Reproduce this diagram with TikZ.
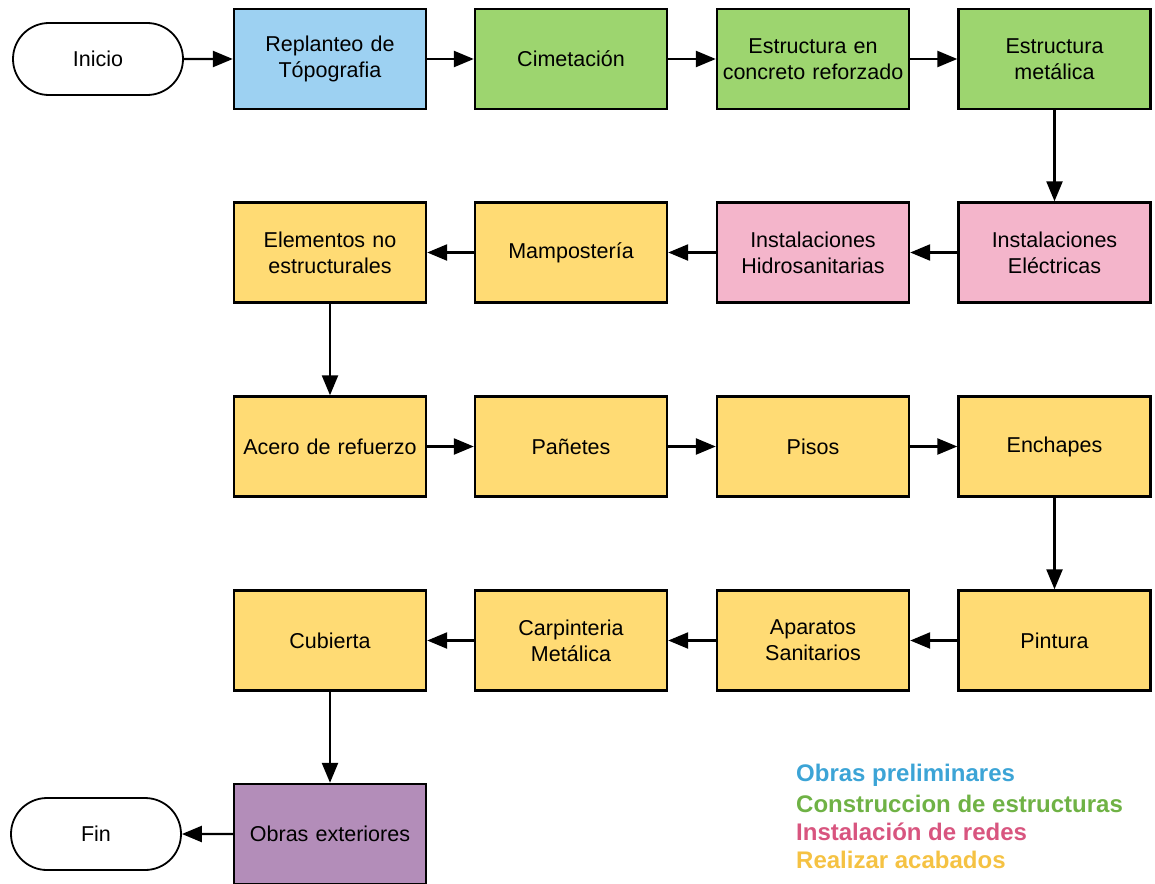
\documentclass[tikz,border=0pt]{standalone}
\usepackage{fontspec}
\setmainfont{Liberation Sans}
\usetikzlibrary{arrows.meta,shapes.misc}
\definecolor{cblue}{HTML}{9DD1F2}
\definecolor{cgreen}{HTML}{9DD56F}
\definecolor{cpink}{HTML}{F4B5CB}
\definecolor{cyellow}{HTML}{FFDB74}
\definecolor{cpurple}{HTML}{B38DB9}
\definecolor{lblue}{HTML}{3CA4D6}
\definecolor{lgreen}{HTML}{6FB245}
\definecolor{lpink}{HTML}{D8557F}
\definecolor{lyellow}{HTML}{F5C243}
\tikzset{
  box/.style={draw=black, line width=2.4pt, minimum width=192pt, minimum height=100pt, align=center, text width=190pt, font=\fontsize{21.5}{26}\selectfont, inner sep=0pt},
  term/.style={draw=black, line width=1.8pt, rounded rectangle, minimum width=170pt, minimum height=72pt, font=\fontsize{21.5}{26}\selectfont, inner sep=0pt},
  arr/.style={line width=2.4pt, -{Triangle[length=20pt,width=16pt]}},
  legend/.style={anchor=west, font=\fontsize{24}{26}\bfseries\selectfont, inner sep=0pt}
}
\begin{document}
\begin{tikzpicture}[x=1pt,y=-1pt]
\useasboundingbox (0,0) rectangle (1155,883);
% row 1
\node[term] (inicio) at (98,59) {Inicio};
\node[box, fill=cblue] (rep) at (330,59) {Replanteo de\\Tópografia};
\node[box, fill=cgreen] (cim) at (571,59) {Cimetación};
\node[box, fill=cgreen] (con) at (813,59) {Estructura en\\concreto reforzado};
\node[box, fill=cgreen] (met) at (1054.5,59) {Estructura\\metálica};
% row 2
\node[box, fill=cyellow] (ele) at (330,252.5) {Elementos no\\estructurales};
\node[box, fill=cyellow] (mam) at (571,252.5) {Mampostería};
\node[box, fill=cpink] (hid) at (813,252.5) {Instalaciones\\Hidrosanitarias};
\node[box, fill=cpink] (elec) at (1054.5,252.5) {Instalaciones\\Eléctricas};
% row 3
\node[box, fill=cyellow] (ace) at (330,446.5) {Acero de refuerzo};
\node[box, fill=cyellow] (pan) at (571,446.5) {Pañetes};
\node[box, fill=cyellow] (pis) at (813,446.5) {Pisos};
\node[box, fill=cyellow] (enc) at (1054.5,446.5) {Enchapes};
% row 4
\node[box, fill=cyellow] (cub) at (330,640.5) {Cubierta};
\node[box, fill=cyellow] (car) at (571,640.5) {Carpinteria\\Metálica};
\node[box, fill=cyellow] (apa) at (813,640.5) {Aparatos\\Sanitarios};
\node[box, fill=cyellow] (pin) at (1054.5,640.5) {Pintura};
% row 5
\node[box, fill=cpurple] (obr) at (330,834) {Obras exteriores};
\node[term] (fin) at (96,834) {Fin};
% arrows
\draw[arr] (inicio) -- (rep);
\draw[arr] (rep) -- (cim);
\draw[arr] (cim) -- (con);
\draw[arr] (con) -- (met);
\draw[arr] (met) -- (elec);
\draw[arr] (elec) -- (hid);
\draw[arr] (hid) -- (mam);
\draw[arr] (mam) -- (ele);
\draw[arr] (ele) -- (ace);
\draw[arr] (ace) -- (pan);
\draw[arr] (pan) -- (pis);
\draw[arr] (pis) -- (enc);
\draw[arr] (enc) -- (pin);
\draw[arr] (pin) -- (apa);
\draw[arr] (apa) -- (car);
\draw[arr] (car) -- (cub);
\draw[arr] (cub) -- (obr);
\draw[arr] (obr) -- (fin);
% legend
\node[legend, text=lblue] (l1) at (796,775) {Obras preliminares};
\node[legend, text=lgreen] (l2) at (796,803.5) {Construccion de estructuras};
\node[legend, text=lpink] (l3) at (796,831.5) {Instalación de redes};
\node[legend, text=lyellow] (l4) at (796,859.5) {Realizar acabados};
\end{tikzpicture}
\end{document}
